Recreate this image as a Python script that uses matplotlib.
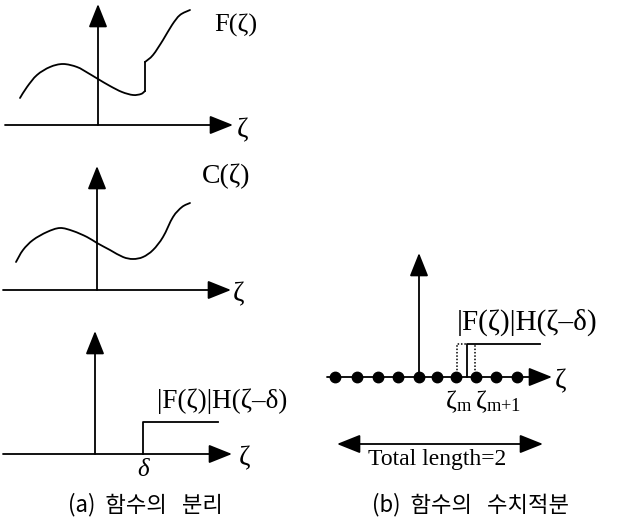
import matplotlib
matplotlib.use("Agg")
import numpy as np
import matplotlib.pyplot as plt
from matplotlib.path import Path
from matplotlib.patches import PathPatch

plt.rcParams["mathtext.fontset"] = "custom"
plt.rcParams["mathtext.rm"] = "Liberation Serif"
plt.rcParams["mathtext.it"] = "Liberation Serif:italic"

SERIF = "Liberation Serif"
SANS = ["Noto Sans CJK KR", "DejaVu Sans"]

# ---- panel (a): three sketches, drawing units = pixels, y grows downward ----
# F(zeta): smooth hump and dip, a jump, then a rising tail
f_left_x = [20, 27, 37, 50, 63, 77, 88, 98, 110, 122, 133, 141, 145]
f_left_y = [98, 87, 75, 67, 64, 67, 73, 79, 86, 92, 95, 94, 91]
f_right_x = [145, 153, 163, 172, 180, 190]
f_right_y = [62, 55, 40, 25, 15, 10]

# C(zeta): the continuous part
c_x = [16, 23, 33, 47, 60, 73, 87, 97, 110, 123, 133, 143, 153, 163, 173, 182, 190]
c_y = [262, 250, 240, 232, 228, 231, 237, 243, 250, 257, 259, 257, 250, 237, 217, 207, 203]

# |F|H(zeta - delta): step at delta
step_a_x = [143, 143, 218]
step_a_y = [454, 422, 422]

# ---- panel (b): discretised axis ----
node_x = [335, 357, 378, 398, 419, 437, 456, 476, 496, 517]
node_y = 377
step_b_x = [467, 467, 540]
step_b_y = [377, 344, 344]
cell_left, cell_right = 457, 475

fig = plt.figure(figsize=(6.24, 5.21), dpi=100)
ax = fig.add_axes([0, 0, 1, 1])
ax.set_xlim(0, 624)
ax.set_ylim(521, 0)
ax.axis("off")

LW = 1.3
HEAD = "-|>,head_length=0.8,head_width=0.32"
arrow_kw = dict(arrowstyle=HEAD, color="black", lw=LW,
                shrinkA=0, shrinkB=0, mutation_scale=18)


def arrow(x0, y0, x1, y1, style=None):
    kw = dict(arrow_kw)
    if style:
        kw["arrowstyle"] = style
    ax.annotate("", xy=(x1, y1), xytext=(x0, y0), arrowprops=kw)


def axes_cross(ox, oy, top, left, right):
    arrow(left, oy, right, oy)
    arrow(ox, oy, ox, top)


def smooth_curve(xs, ys):
    """Draw a Catmull-Rom style smooth curve through the given points."""
    p = np.column_stack([xs, ys]).astype(float)
    n = len(p)
    verts = [tuple(p[0])]
    codes = [Path.MOVETO]
    for i in range(n - 1):
        p0 = p[i - 1] if i > 0 else p[i]
        p1, p2 = p[i], p[i + 1]
        p3 = p[i + 2] if i + 2 < n else p[i + 1]
        verts += [tuple(p1 + (p2 - p0) / 6), tuple(p2 - (p3 - p1) / 6), tuple(p2)]
        codes += [Path.CURVE4] * 3
    ax.add_patch(PathPatch(Path(verts, codes), fill=False, lw=LW,
                           edgecolor="black", capstyle="round"))


def zeta(x, y, size=20):
    ax.text(x, y, "ζ", family=SERIF, fontsize=size, ha="center", va="center")


# F(zeta) sketch
axes_cross(98, 125, 4, 5, 233)
smooth_curve(f_left_x, f_left_y)
ax.plot([f_left_x[-1], f_right_x[0]], [f_left_y[-1], f_right_y[0]], color="black", lw=LW)
smooth_curve(f_right_x, f_right_y)
ax.text(214, 25, "F(ζ)", family=SERIF, fontsize=19, ha="left", va="center")
zeta(243, 131)

# C(zeta) sketch
axes_cross(97, 290, 166, 3, 231)
smooth_curve(c_x, c_y)
ax.text(202, 176, "C(ζ)", family=SERIF, fontsize=20, ha="left", va="center")
zeta(238, 295)

# step sketch
axes_cross(95, 454, 331, 3, 232)
ax.plot(step_a_x, step_a_y, color="black", lw=LW)
ax.text(157, 401, "|F(ζ)|H(ζ–δ)", family=SERIF, fontsize=19.5, ha="left", va="center")
ax.text(143, 470, "δ", family=SERIF, style="italic", fontsize=18, ha="center", va="center")
zeta(245, 459)
ax.text(145, 505, "(a)  함수의   분리", family=SANS, fontsize=16, ha="center", va="center")

# discretised axis
axes_cross(419, node_y, 253, 327, 552)
ax.plot(node_x, [node_y] * len(node_x), "o", color="black", ms=7.5, zorder=3)
ax.plot(step_b_x, step_b_y, color="black", lw=LW)
ax.plot([cell_left, cell_left, step_b_x[0]], [node_y, step_b_y[1], step_b_y[1]],
        color="black", lw=1.1, ls=(0, (1, 1.2)))
ax.plot([cell_right, cell_right], [node_y, step_b_y[1]],
        color="black", lw=1.1, ls=(0, (1, 1.2)))
ax.text(457, 322, "|F(ζ)|H(ζ–δ)", family=SERIF, fontsize=21, ha="left", va="center")
zeta(560, 382)
ax.text(445, 402, r"$\mathrm{ζ}_{\mathrm{m}}$", fontsize=19, ha="left", va="center")
ax.text(475, 402, r"$\mathrm{ζ}_{\mathrm{m{+}1}}$", fontsize=19, ha="left", va="center")

arrow(337, 444, 543, 444, "<|-|>,head_length=0.8,head_width=0.32")
ax.text(437, 459, "Total length=2", family=SERIF, fontsize=17, ha="center", va="center")
ax.text(471, 505, "(b)  함수의   수치적분", family=SANS, fontsize=16, ha="center", va="center")

fig.savefig("out.png", dpi=100)
